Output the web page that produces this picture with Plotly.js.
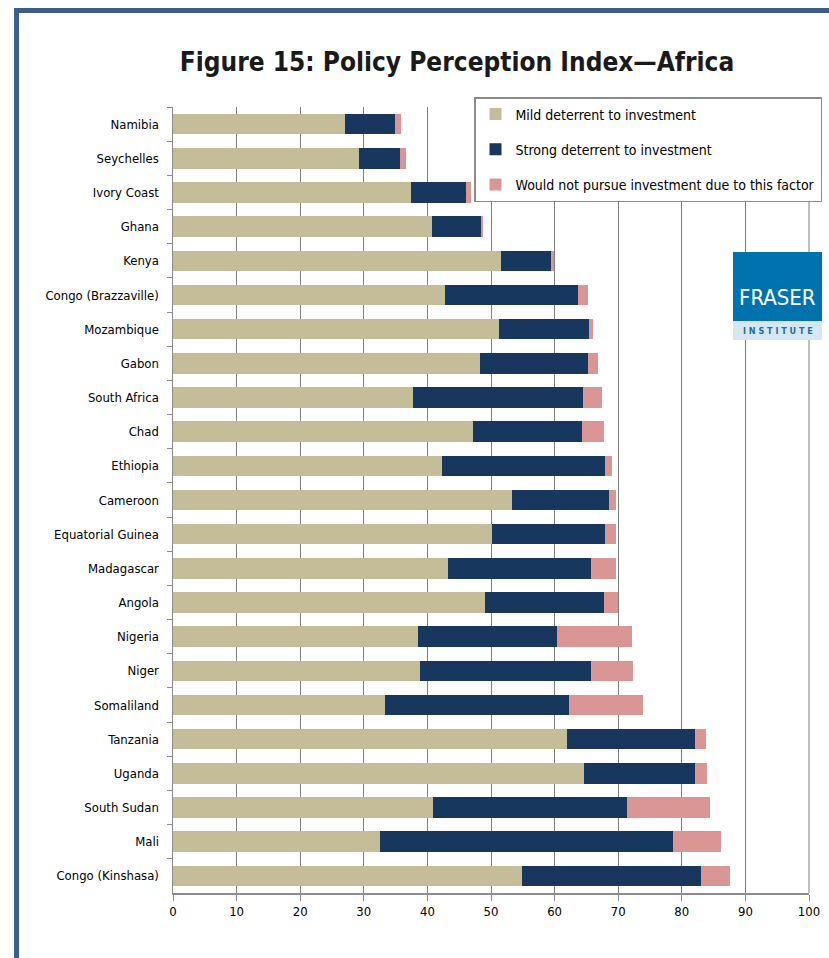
<!DOCTYPE html>
<html>
<head>
<meta charset="utf-8">
<script src="https://cdn.plot.ly/plotly-3.0.1.min.js"></script>
<style>html,body{margin:0;padding:0;background:#fff;}#chart{width:829px;height:958px;}</style>
</head>
<body>
<div id="chart"></div>
<script>
const countries = ["Namibia","Seychelles","Ivory Coast","Ghana","Kenya","Congo (Brazzaville)","Mozambique","Gabon","South Africa","Chad","Ethiopia","Cameroon","Equatorial Guinea","Madagascar","Angola","Nigeria","Niger","Somaliland","Tanzania","Uganda","South Sudan","Mali","Congo (Kinshasa)"];
const mildDeterrent = [27.0,29.2,37.4,40.8,51.5,42.8,51.3,48.3,37.7,47.1,42.3,53.3,50.2,43.2,49.1,38.5,38.9,33.3,62.0,64.7,40.9,32.6,54.9];
const strongDeterrent = [7.9,6.5,8.6,7.7,8.0,20.8,14.1,16.9,26.7,17.2,25.7,15.3,17.8,22.6,18.7,21.9,26.9,29.0,20.0,17.3,30.5,46.0,28.1];
const wouldNotPursue = [0.9,1.0,0.8,0.2,0.4,1.6,0.7,1.7,3.0,3.4,1.1,1.0,1.6,3.9,2.2,11.8,6.5,11.6,1.8,2.0,13.1,7.5,4.5];
const seriesNames = ["Mild deterrent to investment","Strong deterrent to investment","Would not pursue investment due to this factor"];
const xTickVals = [0,10,20,30,40,50,60,70,80,90,100];

const W = 829, H = 958, L = 173, R = 809, T = 107, B = 893;
const px = v => (v - L) / (R - L);
const py = v => (B - v) / (B - T);
const FONT = "DejaVu Sans Condensed, Liberation Sans Narrow, sans-serif";

const colors = ["#C4BD97", "#17375E", "#D99694"];
const vals = [mildDeterrent, strongDeterrent, wouldNotPursue];
const traces = vals.map((v, i) => ({
  type: "bar", orientation: "h", x: v, y: countries, name: seriesNames[i],
  legendgroup: "g" + i,
  marker: {color: colors[i], line: {width: 0}},
  hoverinfo: "x+y+name"
}));

const layout = {
  width: W, height: H,
  margin: {l: L, r: W - R, t: T, b: H - B, pad: 0, autoexpand: false},
  paper_bgcolor: "#fff", plot_bgcolor: "#fff",
  barmode: "stack", bargap: 0.4,
  font: {family: FONT, size: 13, color: "#000"},
  title: {
    text: "<b>Figure 15: Policy Perception Index\u2014Africa</b>",
    font: {family: FONT, size: 26, color: "#1a1a1a"},
    xref: "container", yref: "container", x: 457 / W, y: 1 - 62 / H,
    xanchor: "center", yanchor: "middle"
  },
  xaxis: {
    range: [0, 100], tickvals: xTickVals, ticktext: xTickVals.map(String),
    showgrid: true, gridcolor: "#7f7f7f", gridwidth: 1,
    showline: true, linecolor: "#8c8c8c", linewidth: 1.5,
    ticks: "outside", ticklen: 6, tickcolor: "#8c8c8c",
    tickfont: {family: FONT, size: 13, color: "#000"},
    zeroline: false, fixedrange: true
  },
  yaxis: {
    type: "category", categoryorder: "array", categoryarray: countries,
    autorange: "reversed",
    showline: true, linecolor: "#8c8c8c", linewidth: 1.5,
    ticks: "outside", ticklen: 5, tickcolor: "#8c8c8c", tickson: "boundaries",
    tickfont: {family: FONT, size: 13, color: "#000"},
    ticklabelstandoff: 10,
    showgrid: false, fixedrange: true
  },
  legend: {
    x: px(474), y: py(97), xanchor: "left", yanchor: "top",
    bgcolor: "#fff", bordercolor: "#8c8c8c", borderwidth: 1.5,
    font: {family: FONT, size: 14, color: "#000"},
    tracegroupgap: 14, traceorder: "grouped", itemwidth: 30
  },
  shapes: [
    {type: "line", xref: "paper", yref: "paper", x0: 1, x1: 1, y0: 0, y1: 1, line: {color: "#7f7f7f", width: 1}, layer: "below"},
    {type: "rect", xref: "paper", yref: "paper", x0: px(14), x1: px(19), y0: py(958), y1: py(8), fillcolor: "#3B5E8C", line: {width: 0}, layer: "above"},
    {type: "rect", xref: "paper", yref: "paper", x0: px(14), x1: px(829), y0: py(13), y1: py(8), fillcolor: "#3B5E8C", line: {width: 0}, layer: "above"},
    {type: "rect", xref: "paper", yref: "paper", x0: px(733), x1: px(822), y0: py(321), y1: py(252), fillcolor: "#0073AE", line: {width: 0}, layer: "above"},
    {type: "rect", xref: "paper", yref: "paper", x0: px(733), x1: px(822), y0: py(340), y1: py(321), fillcolor: "#D6E7F3", line: {width: 0}, layer: "above"}
  ],
  annotations: [
    {xref: "paper", yref: "paper", x: px(777.5), y: py(297), text: "FRASER", showarrow: false,
     font: {family: FONT, size: 22, color: "#fff"}, xanchor: "center", yanchor: "middle"},
    {xref: "paper", yref: "paper", x: px(777.5), y: py(331), text: "<b>I N S T I T U T E</b>", showarrow: false,
     font: {family: FONT, size: 9, color: "#1A6FA3"}, xanchor: "center", yanchor: "middle"}
  ]
};

Plotly.newPlot("chart", traces, layout, {displayModeBar: false, staticPlot: true});
</script>
</body>
</html>
